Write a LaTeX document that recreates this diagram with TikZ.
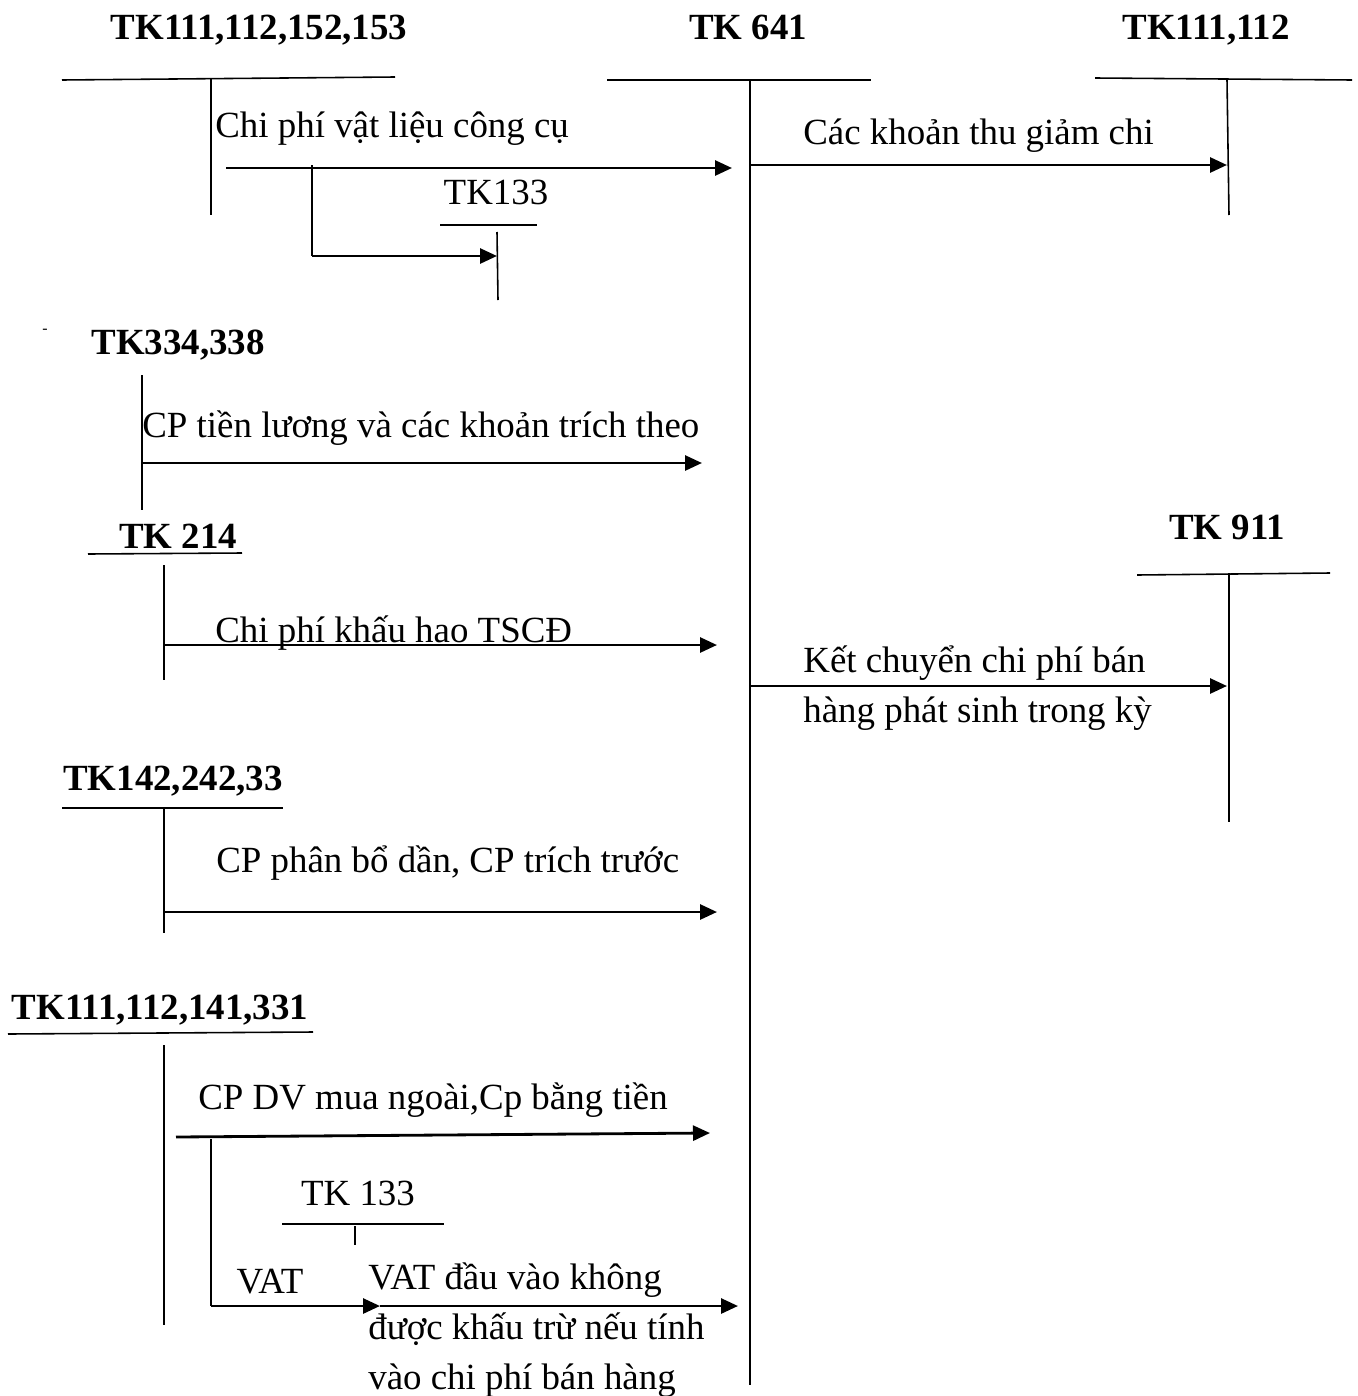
\documentclass[tikz,border=0pt]{standalone}
\usepackage{fontspec}
\setmainfont{Liberation Serif}
\usetikzlibrary{arrows.meta}
\tikzset{
    acc/.style={font=\bfseries, inner sep=0pt},
    lbl/.style={anchor=west, inner sep=0pt, align=left},
    tline/.style={line width=0.9pt},
    arr/.style={-{Triangle[length=0.34cm, width=0.3cm]}, line width=1.6pt},
}

\begin{document}
\begin{tikzpicture}[x=0.02cm, y=-0.02cm]
\useasboundingbox (0,0) rectangle (1358,1396);
\fontsize{21}{28.5}\selectfont

% TK111,112,152,153
\node[acc] (tkvl) at (259,30) {TK111,112,152,153};
\coordinate (vlL) at (62,80); \coordinate (vlR) at (395,77);
\coordinate (vlT) at (211,79); \coordinate (vlB) at (211,215);
\draw[tline] (vlL) -- (vlR);
\draw[tline] (vlT) -- (vlB);

% TK 641
\node[acc] (tk641) at (748,27) {TK 641};
\coordinate (cL) at (607,80); \coordinate (cR) at (871,80);
\coordinate (cT) at (750,80); \coordinate (cB) at (750,1385);
\draw[tline] (cL) -- (cR);
\draw[tline] (cT) -- (cB);

% TK111,112
\node[acc] (tktien) at (1206,30) {TK111,112};
\coordinate (tL) at (1095,78); \coordinate (tR) at (1352,80);
\coordinate (tT) at (1227,80); \coordinate (tB) at (1229,215);
\draw[tline] (tL) -- (tR);
\draw[tline] (tT) -- (tB);

% vat lieu, cong cu
\node[lbl] (nvl) at (215,129) {Chi phí vật liệu công cụ};
\coordinate (vlA) at (226,168); \coordinate (vlE) at (732,168);
\draw[arr] (vlA) -- (vlE);
\node (tka) at (496,192) {TK133};
\coordinate (aL) at (440,225); \coordinate (aR) at (537,225);
\coordinate (aT) at (497,232); \coordinate (aB) at (498,300);
\draw[tline] (aL) -- (aR);
\draw[tline] (aT) -- (aB);
\coordinate (brT) at (312,165); \coordinate (brB) at (312,256);
\coordinate (brE) at (497,256);
\draw[tline] (brT) -- (brB);
\draw[arr] (brB) -- (brE);

% thu giam chi
\node[lbl] (giam) at (803,136) {Các khoản thu giảm chi};
\coordinate (gA) at (750,165); \coordinate (gE) at (1227,165);
\draw[arr] (gA) -- (gE);

% TK334,338
\node[inner sep=0pt] (dash) at (45,331) {\fontsize{9}{10}\selectfont -};
\node[acc] (tkluong) at (178,345) {TK334,338};
\coordinate (lT) at (142,375); \coordinate (lB) at (142,510);
\draw[tline] (lT) -- (lB);
\node[lbl] (luong) at (142,428) {CP tiền lương và các khoản trích theo};
\coordinate (lA) at (142,463); \coordinate (lE) at (702,463);
\draw[arr] (lA) -- (lE);

% TK 214
\node[acc] (tkkh) at (178,536) {TK 214};
\coordinate (khL) at (88,554); \coordinate (khR) at (242,553);
\coordinate (khT) at (164,565); \coordinate (khB) at (164,680);
\draw[tline] (khL) -- (khR);
\draw[tline] (khT) -- (khB);
\node[lbl] (khau) at (215,633) {Chi phí khấu hao TSCĐ};
\coordinate (khA) at (164,645); \coordinate (khE) at (717,645);
\draw[arr] (khA) -- (khE);

% TK 911
\node[acc] (tkkq) at (1227,527) {TK 911};
\coordinate (kqL) at (1137,575); \coordinate (kqR) at (1330,573);
\coordinate (kqT) at (1229,573); \coordinate (kqB) at (1229,822);
\draw[tline] (kqL) -- (kqR);
\draw[tline] (kqT) -- (kqB);
\node[lbl] (kc) at (803,688) {Kết chuyển chi phí bán\\hàng phát sinh trong kỳ};
\coordinate (kcA) at (750,686); \coordinate (kcE) at (1227,686);
\draw[arr] (kcA) -- (kcE);

% TK142,242,33
\node[acc] (tkpb) at (173,781) {TK142,242,33};
\coordinate (pbL) at (62,808); \coordinate (pbR) at (283,808);
\coordinate (pbT) at (164,808); \coordinate (pbB) at (164,933);
\draw[tline] (pbL) -- (pbR);
\draw[tline] (pbT) -- (pbB);
\node[lbl] (phanbo) at (216,863) {CP phân bổ dần, CP trích trước};
\coordinate (pbA) at (164,912); \coordinate (pbE) at (717,912);
\draw[arr] (pbA) -- (pbE);

% TK111,112,141,331
\node[acc] (tkdv) at (160,1010) {TK111,112,141,331};
\coordinate (dvL) at (8,1034); \coordinate (dvR) at (313,1032);
\coordinate (dvT) at (164,1045); \coordinate (dvB) at (164,1325);
\draw[tline] (dvL) -- (dvR);
\draw[tline] (dvT) -- (dvB);
\node[lbl] (muangoai) at (198,1100) {CP DV mua ngoài,Cp bằng tiền};
\coordinate (dvA) at (176,1137); \coordinate (dvE) at (710,1133);
\draw[arr] (dvA) -- (dvE);

% TK 133 (VAT)
\node (tkb) at (358,1193) {TK 133};
\coordinate (bL) at (282,1224); \coordinate (bR) at (444,1224);
\coordinate (bT) at (355,1226); \coordinate (bB) at (355,1245);
\draw[tline] (bL) -- (bR);
\draw[tline] (bT) -- (bB);
\node (vat) at (270,1282) {VAT};
\node[lbl] (vatkt) at (368,1330) {VAT đầu vào không\\được khấu trừ nếu tính\\vào chi phí bán hàng};
\coordinate (vT) at (211,1139); \coordinate (vB) at (211,1306);
\coordinate (vM) at (380,1306); \coordinate (vE) at (738,1306);
\draw[tline] (vT) -- (vB);
\draw[arr] (vB) -- (vM);
\draw[arr] (vM) -- (vE);

\end{tikzpicture}
\end{document}
